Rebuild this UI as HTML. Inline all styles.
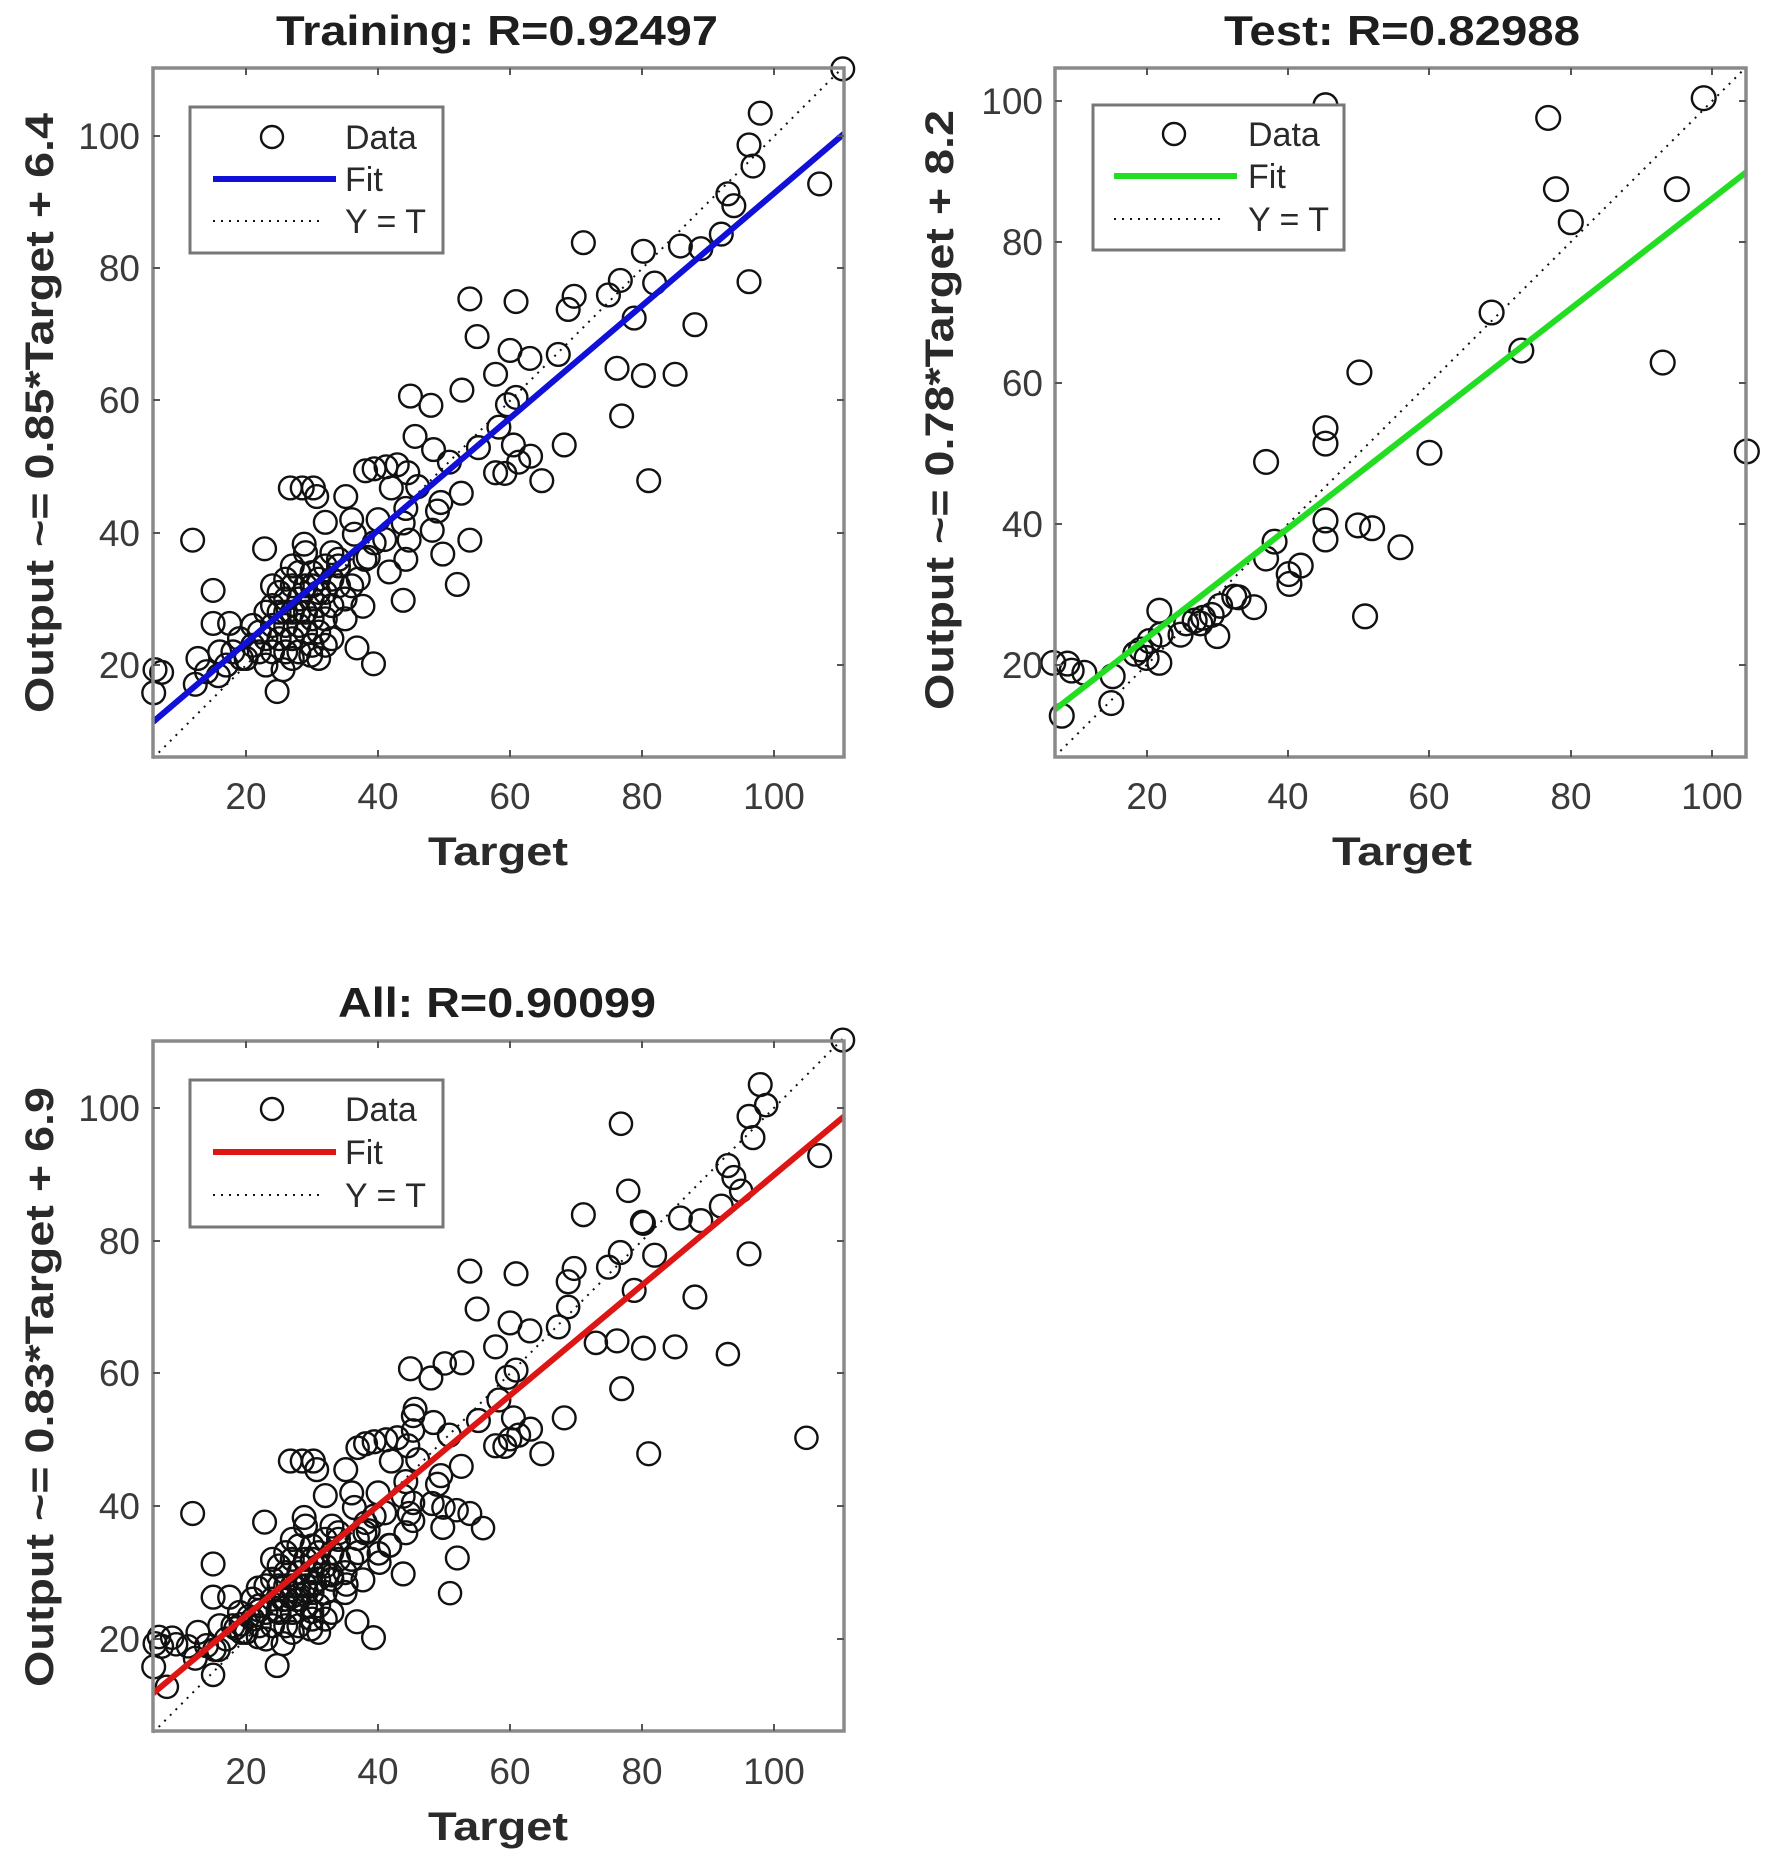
<!DOCTYPE html>
<html><head><meta charset="utf-8"><style>
html,body{margin:0;padding:0;background:#fff;width:1765px;height:1856px;overflow:hidden}
svg{display:block}
text{font-family:"Liberation Sans",Arial,sans-serif}
.t{font-size:37px;fill:#3a3a3a}
.ti{font-size:42px;font-weight:bold;fill:#1e1e1e}
.lb{font-size:40px;font-weight:bold;fill:#2a2a2a}
.lg{font-size:34px;fill:#2a2a2a}
.pts circle{fill:none;stroke:#111;stroke-width:2.4;vector-effect:non-scaling-stroke}
</style></head><body>
<svg width="1765" height="1856" viewBox="0 0 1765 1856" xmlns="http://www.w3.org/2000/svg">
<defs>
<g id="trp" class="pts">
<circle cx="110.4" cy="110.2" r="1.72"/><circle cx="97.9" cy="103.5" r="1.72"/><circle cx="96.2" cy="98.7" r="1.72"/><circle cx="96.8" cy="95.5" r="1.72"/><circle cx="106.9" cy="92.8" r="1.72"/><circle cx="93" cy="91.3" r="1.72"/><circle cx="93.9" cy="89.5" r="1.72"/><circle cx="92" cy="85.2" r="1.72"/><circle cx="88.9" cy="83" r="1.72"/><circle cx="85.8" cy="83.4" r="1.72"/><circle cx="80.2" cy="82.6" r="1.72"/><circle cx="71.1" cy="83.9" r="1.72"/><circle cx="76.7" cy="78.2" r="1.72"/><circle cx="81.9" cy="77.8" r="1.72"/><circle cx="74.9" cy="76" r="1.72"/><circle cx="69.7" cy="75.8" r="1.72"/><circle cx="68.8" cy="73.8" r="1.72"/><circle cx="78.8" cy="72.5" r="1.72"/><circle cx="88" cy="71.5" r="1.72"/><circle cx="96.2" cy="78" r="1.72"/><circle cx="53.9" cy="75.4" r="1.72"/><circle cx="60.9" cy="75" r="1.72"/><circle cx="55" cy="69.7" r="1.72"/><circle cx="60" cy="67.6" r="1.72"/><circle cx="63" cy="66.4" r="1.72"/><circle cx="67.3" cy="67" r="1.72"/><circle cx="57.8" cy="64" r="1.72"/><circle cx="76.2" cy="64.9" r="1.72"/><circle cx="80.2" cy="63.8" r="1.72"/><circle cx="85" cy="64" r="1.72"/><circle cx="76.9" cy="57.7" r="1.72"/><circle cx="81" cy="47.9" r="1.72"/><circle cx="68.2" cy="53.3" r="1.72"/><circle cx="64.8" cy="47.9" r="1.72"/><circle cx="52.7" cy="61.6" r="1.72"/><circle cx="44.9" cy="60.7" r="1.72"/><circle cx="48" cy="59.3" r="1.72"/><circle cx="45.6" cy="54.6" r="1.72"/><circle cx="48.4" cy="52.6" r="1.72"/><circle cx="59.6" cy="59.4" r="1.72"/><circle cx="60.9" cy="60.5" r="1.72"/><circle cx="58.3" cy="56" r="1.72"/><circle cx="55.2" cy="52.9" r="1.72"/><circle cx="63.1" cy="51.6" r="1.72"/><circle cx="60.5" cy="53.3" r="1.72"/><circle cx="61.3" cy="50.7" r="1.72"/><circle cx="57.8" cy="49.1" r="1.72"/><circle cx="59.2" cy="49" r="1.72"/><circle cx="50.8" cy="50.7" r="1.72"/><circle cx="52.6" cy="46" r="1.72"/><circle cx="49.5" cy="44.6" r="1.72"/><circle cx="49" cy="43.3" r="1.72"/><circle cx="48.2" cy="40.4" r="1.72"/><circle cx="49.8" cy="36.8" r="1.72"/><circle cx="53.9" cy="38.9" r="1.72"/><circle cx="52" cy="32.2" r="1.72"/><circle cx="38.1" cy="49.4" r="1.72"/><circle cx="39.4" cy="49.7" r="1.72"/><circle cx="41.2" cy="50" r="1.72"/><circle cx="42.9" cy="50.3" r="1.72"/><circle cx="44.5" cy="49.1" r="1.72"/><circle cx="42" cy="46.8" r="1.72"/><circle cx="44.2" cy="43.7" r="1.72"/><circle cx="43.8" cy="41.5" r="1.72"/><circle cx="44.7" cy="38.9" r="1.72"/><circle cx="44.2" cy="36" r="1.72"/><circle cx="41.7" cy="34.1" r="1.72"/><circle cx="43.8" cy="29.8" r="1.72"/><circle cx="39.4" cy="38.5" r="1.72"/><circle cx="38.5" cy="36.3" r="1.72"/><circle cx="37.7" cy="28.9" r="1.72"/><circle cx="35.1" cy="45.5" r="1.72"/><circle cx="36" cy="42" r="1.72"/><circle cx="32" cy="41.6" r="1.72"/><circle cx="36.4" cy="39.8" r="1.72"/><circle cx="26.7" cy="46.8" r="1.72"/><circle cx="28.5" cy="46.8" r="1.72"/><circle cx="30.2" cy="46.8" r="1.72"/><circle cx="30.7" cy="45.5" r="1.72"/><circle cx="28.8" cy="38.3" r="1.72"/><circle cx="22.8" cy="37.6" r="1.72"/><circle cx="11.9" cy="38.9" r="1.72"/><circle cx="15" cy="31.3" r="1.72"/><circle cx="15" cy="26.3" r="1.72"/><circle cx="17.5" cy="26.3" r="1.72"/><circle cx="12.7" cy="21" r="1.72"/><circle cx="6.2" cy="19.3" r="1.72"/><circle cx="7.2" cy="18.9" r="1.72"/><circle cx="6" cy="15.8" r="1.72"/><circle cx="12.3" cy="17.1" r="1.72"/><circle cx="24.7" cy="16" r="1.72"/><circle cx="25.6" cy="19.3" r="1.72"/><circle cx="29.8" cy="21.5" r="1.72"/><circle cx="36.8" cy="22.6" r="1.72"/><circle cx="39.3" cy="20.2" r="1.72"/><circle cx="15.8" cy="18.4" r="1.72"/><circle cx="19.3" cy="21" r="1.72"/><circle cx="46" cy="47" r="1.72"/><circle cx="40" cy="42" r="1.72"/><circle cx="41" cy="39" r="1.72"/><circle cx="33" cy="37" r="1.72"/><circle cx="34" cy="35" r="1.72"/><circle cx="36" cy="32" r="1.72"/><circle cx="35" cy="30" r="1.72"/><circle cx="31" cy="31" r="1.72"/>
<circle cx="22" cy="22" r="1.72"/><circle cx="23" cy="24" r="1.72"/><circle cx="24" cy="22" r="1.72"/><circle cx="24" cy="26" r="1.72"/><circle cx="25" cy="24" r="1.72"/><circle cx="25" cy="28" r="1.72"/><circle cx="26" cy="26" r="1.72"/><circle cx="26" cy="30" r="1.72"/><circle cx="27" cy="24" r="1.72"/><circle cx="27" cy="28" r="1.72"/><circle cx="27" cy="32" r="1.72"/><circle cx="28" cy="26" r="1.72"/><circle cx="28" cy="30" r="1.72"/><circle cx="28" cy="34" r="1.72"/><circle cx="29" cy="28" r="1.72"/><circle cx="29" cy="32" r="1.72"/><circle cx="29" cy="25" r="1.72"/><circle cx="30" cy="30" r="1.72"/><circle cx="30" cy="34" r="1.72"/><circle cx="30" cy="27" r="1.72"/><circle cx="31" cy="29" r="1.72"/><circle cx="31" cy="33" r="1.72"/><circle cx="32" cy="31" r="1.72"/><circle cx="32" cy="35" r="1.72"/><circle cx="33" cy="33" r="1.72"/><circle cx="33" cy="29" r="1.72"/><circle cx="34" cy="32" r="1.72"/><circle cx="23" cy="28" r="1.72"/><circle cx="22" cy="25" r="1.72"/><circle cx="21" cy="23" r="1.72"/><circle cx="20" cy="21" r="1.72"/><circle cx="18" cy="22" r="1.72"/><circle cx="19" cy="24" r="1.72"/><circle cx="25" cy="31" r="1.72"/><circle cx="26" cy="33" r="1.72"/><circle cx="24" cy="32" r="1.72"/><circle cx="26" cy="22" r="1.72"/><circle cx="28" cy="22" r="1.72"/><circle cx="30" cy="23" r="1.72"/><circle cx="31" cy="25" r="1.72"/><circle cx="32" cy="27" r="1.72"/><circle cx="27" cy="35" r="1.72"/><circle cx="29" cy="37" r="1.72"/><circle cx="33" cy="24" r="1.72"/><circle cx="35" cy="27" r="1.72"/><circle cx="23" cy="20" r="1.72"/><circle cx="21" cy="26" r="1.72"/><circle cx="24" cy="29" r="1.72"/><circle cx="26" cy="28" r="1.72"/><circle cx="28" cy="28" r="1.72"/><circle cx="30" cy="32" r="1.72"/><circle cx="34" cy="36" r="1.72"/><circle cx="37" cy="33" r="1.72"/><circle cx="38" cy="36" r="1.72"/><circle cx="16" cy="22" r="1.72"/><circle cx="14" cy="19" r="1.72"/><circle cx="17" cy="20" r="1.72"/><circle cx="27" cy="21" r="1.72"/><circle cx="31" cy="21" r="1.72"/><circle cx="32" cy="23" r="1.72"/>
</g>
<g id="tsp" class="pts">
<circle cx="45.3" cy="99.4" r="1.68"/><circle cx="98.8" cy="100.4" r="1.68"/><circle cx="76.8" cy="97.6" r="1.68"/><circle cx="77.9" cy="87.5" r="1.68"/><circle cx="95" cy="87.5" r="1.68"/><circle cx="80" cy="82.8" r="1.68"/><circle cx="68.8" cy="70" r="1.68"/><circle cx="73" cy="64.6" r="1.68"/><circle cx="93" cy="62.9" r="1.68"/><circle cx="50.1" cy="61.5" r="1.68"/><circle cx="45.3" cy="53.6" r="1.68"/><circle cx="45.3" cy="51.4" r="1.68"/><circle cx="60" cy="50.1" r="1.68"/><circle cx="36.9" cy="48.8" r="1.68"/><circle cx="104.9" cy="50.3" r="1.68"/><circle cx="45.3" cy="40.5" r="1.68"/><circle cx="45.3" cy="37.8" r="1.68"/><circle cx="49.9" cy="39.8" r="1.68"/><circle cx="51.9" cy="39.4" r="1.68"/><circle cx="55.9" cy="36.7" r="1.68"/><circle cx="38.1" cy="37.5" r="1.68"/><circle cx="36.9" cy="35.1" r="1.68"/><circle cx="41.8" cy="34.1" r="1.68"/><circle cx="40.1" cy="32.9" r="1.68"/><circle cx="40.2" cy="31.5" r="1.68"/><circle cx="33" cy="29.6" r="1.68"/><circle cx="35.2" cy="28.2" r="1.68"/><circle cx="50.9" cy="26.9" r="1.68"/><circle cx="30" cy="24.1" r="1.68"/><circle cx="21.8" cy="27.7" r="1.68"/><circle cx="24.8" cy="24.3" r="1.68"/><circle cx="26.8" cy="26.3" r="1.68"/><circle cx="28" cy="26.7" r="1.68"/><circle cx="29.2" cy="27.1" r="1.68"/><circle cx="30.4" cy="28.4" r="1.68"/><circle cx="32.4" cy="29.7" r="1.68"/><circle cx="25.6" cy="25.9" r="1.68"/><circle cx="22" cy="24.3" r="1.68"/><circle cx="20.4" cy="23.4" r="1.68"/><circle cx="19.2" cy="22.2" r="1.68"/><circle cx="18.4" cy="21.6" r="1.68"/><circle cx="20" cy="21" r="1.68"/><circle cx="21.8" cy="20.3" r="1.68"/><circle cx="15.2" cy="18.4" r="1.68"/><circle cx="15" cy="14.6" r="1.68"/><circle cx="8" cy="12.8" r="1.68"/><circle cx="6.8" cy="20.3" r="1.68"/><circle cx="8.8" cy="20.2" r="1.68"/><circle cx="9.4" cy="19.2" r="1.68"/><circle cx="11.2" cy="18.9" r="1.68"/><circle cx="27.6" cy="25.9" r="1.68"/>
</g>
</defs>

<!-- ============ TRAINING ============ -->
<rect x="153" y="68" width="691" height="689" fill="#fff"/>
<g transform="translate(114.1,797.3) scale(6.6,-6.61)">
<use href="#trp"/>
<line x1="5.9" y1="5.9" x2="110.5" y2="110.5" stroke="#111" stroke-width="2" stroke-dasharray="2 6" vector-effect="non-scaling-stroke"/>
<line x1="5.9" y1="11.4" x2="110.6" y2="100.4" stroke="#1010d8" stroke-width="6" vector-effect="non-scaling-stroke"/>
</g>
<rect x="153" y="68" width="691" height="689" fill="none" stroke="#8a8a8a" stroke-width="3.5"/>
<path d="M246,757v-7M378,757v-7M510,757v-7M642,757v-7M774,757v-7M246,68v7M378,68v7M510,68v7M642,68v7M774,68v7M153,665h7M153,533h7M153,400h7M153,268h7M153,136h7M844,665h-7M844,533h-7M844,400h-7M844,268h-7M844,136h-7" stroke="#555" stroke-width="2"/>
<g class="t" text-anchor="middle"><text x="246" y="809">20</text><text x="378" y="809">40</text><text x="510" y="809">60</text><text x="642" y="809">80</text><text x="774" y="809">100</text></g>
<g class="t" text-anchor="end"><text x="140" y="678">20</text><text x="140" y="546">40</text><text x="140" y="413">60</text><text x="140" y="281">80</text><text x="140" y="149">100</text></g>
<text class="ti" x="497" y="45" text-anchor="middle" textLength="442" lengthAdjust="spacingAndGlyphs">Training: R=0.92497</text>
<text class="lb" x="498" y="865" text-anchor="middle" textLength="140" lengthAdjust="spacingAndGlyphs">Target</text>
<text class="lb" transform="translate(53,413) rotate(-90)" text-anchor="middle" textLength="600" lengthAdjust="spacingAndGlyphs">Output ~= 0.85*Target + 6.4</text>
<rect x="190" y="107" width="253" height="146" fill="#fff" stroke="#777" stroke-width="3"/>
<circle cx="272" cy="137" r="11" fill="none" stroke="#111" stroke-width="2.4"/>
<line x1="213" y1="179" x2="336" y2="179" stroke="#1010d8" stroke-width="6"/>
<line x1="213" y1="221" x2="324" y2="221" stroke="#111" stroke-width="2" stroke-dasharray="2 6"/>
<g class="lg"><text x="345" y="149">Data</text><text x="345" y="191">Fit</text><text x="345" y="233">Y = T</text></g>

<!-- ============ TEST ============ -->
<rect x="1055" y="68" width="691" height="689" fill="#fff"/>
<g transform="translate(1005.2,806) scale(7.07,-7.05)">
<use href="#tsp"/>
<line x1="7" y1="7" x2="104.8" y2="104.8" stroke="#111" stroke-width="2" stroke-dasharray="2 6" vector-effect="non-scaling-stroke"/>
<line x1="7" y1="13.66" x2="104.8" y2="89.9" stroke="#22dd22" stroke-width="6" vector-effect="non-scaling-stroke"/>
</g>
<rect x="1055" y="68" width="691" height="689" fill="none" stroke="#8a8a8a" stroke-width="3.5"/>
<path d="M1147,757v-7M1288,757v-7M1429,757v-7M1571,757v-7M1712,757v-7M1147,68v7M1288,68v7M1429,68v7M1571,68v7M1712,68v7M1055,665h7M1055,524h7M1055,383h7M1055,242h7M1055,101h7M1746,665h-7M1746,524h-7M1746,383h-7M1746,242h-7M1746,101h-7" stroke="#555" stroke-width="2"/>
<g class="t" text-anchor="middle"><text x="1147" y="809">20</text><text x="1288" y="809">40</text><text x="1429" y="809">60</text><text x="1571" y="809">80</text><text x="1712" y="809">100</text></g>
<g class="t" text-anchor="end"><text x="1043" y="678">20</text><text x="1043" y="537">40</text><text x="1043" y="396">60</text><text x="1043" y="255">80</text><text x="1043" y="114">100</text></g>
<text class="ti" x="1402" y="45" text-anchor="middle" textLength="356" lengthAdjust="spacingAndGlyphs">Test: R=0.82988</text>
<text class="lb" x="1402" y="865" text-anchor="middle" textLength="140" lengthAdjust="spacingAndGlyphs">Target</text>
<text class="lb" transform="translate(953,410) rotate(-90)" text-anchor="middle" textLength="600" lengthAdjust="spacingAndGlyphs">Output ~= 0.78*Target + 8.2</text>
<rect x="1093" y="105" width="251" height="145" fill="#fff" stroke="#777" stroke-width="3"/>
<circle cx="1174" cy="134" r="11" fill="none" stroke="#111" stroke-width="2.4"/>
<line x1="1114" y1="176" x2="1237" y2="176" stroke="#22dd22" stroke-width="6"/>
<line x1="1114" y1="219" x2="1226" y2="219" stroke="#111" stroke-width="2" stroke-dasharray="2 6"/>
<g class="lg"><text x="1248" y="146">Data</text><text x="1248" y="188">Fit</text><text x="1248" y="231">Y = T</text></g>

<!-- ============ ALL ============ -->
<rect x="153" y="1041" width="691" height="690" fill="#fff"/>
<g transform="translate(114.1,1771.8) scale(6.6,-6.64)">
<use href="#trp"/>
<use href="#tsp"/>
<line x1="5.9" y1="5.9" x2="110.5" y2="110.5" stroke="#111" stroke-width="2" stroke-dasharray="2 6" vector-effect="non-scaling-stroke"/>
<line x1="5.9" y1="11.8" x2="110.6" y2="98.7" stroke="#dd1515" stroke-width="6" vector-effect="non-scaling-stroke"/>
</g>
<rect x="153" y="1041" width="691" height="690" fill="none" stroke="#8a8a8a" stroke-width="3.5"/>
<path d="M246,1731v-7M378,1731v-7M510,1731v-7M642,1731v-7M774,1731v-7M246,1041v7M378,1041v7M510,1041v7M642,1041v7M774,1041v7M153,1639h7M153,1506h7M153,1373h7M153,1241h7M153,1108h7M844,1639h-7M844,1506h-7M844,1373h-7M844,1241h-7M844,1108h-7" stroke="#555" stroke-width="2"/>
<g class="t" text-anchor="middle"><text x="246" y="1784">20</text><text x="378" y="1784">40</text><text x="510" y="1784">60</text><text x="642" y="1784">80</text><text x="774" y="1784">100</text></g>
<g class="t" text-anchor="end"><text x="140" y="1652">20</text><text x="140" y="1519">40</text><text x="140" y="1386">60</text><text x="140" y="1254">80</text><text x="140" y="1121">100</text></g>
<text class="ti" x="497" y="1017" text-anchor="middle" textLength="318" lengthAdjust="spacingAndGlyphs">All: R=0.90099</text>
<text class="lb" x="498" y="1840" text-anchor="middle" textLength="140" lengthAdjust="spacingAndGlyphs">Target</text>
<text class="lb" transform="translate(53,1387) rotate(-90)" text-anchor="middle" textLength="600" lengthAdjust="spacingAndGlyphs">Output ~= 0.83*Target + 6.9</text>
<rect x="190" y="1080" width="253" height="147" fill="#fff" stroke="#777" stroke-width="3"/>
<circle cx="272" cy="1109" r="11" fill="none" stroke="#111" stroke-width="2.4"/>
<line x1="213" y1="1152" x2="336" y2="1152" stroke="#dd1515" stroke-width="6"/>
<line x1="213" y1="1195" x2="324" y2="1195" stroke="#111" stroke-width="2" stroke-dasharray="2 6"/>
<g class="lg"><text x="345" y="1121">Data</text><text x="345" y="1164">Fit</text><text x="345" y="1207">Y = T</text></g>
</svg>
</body></html>
